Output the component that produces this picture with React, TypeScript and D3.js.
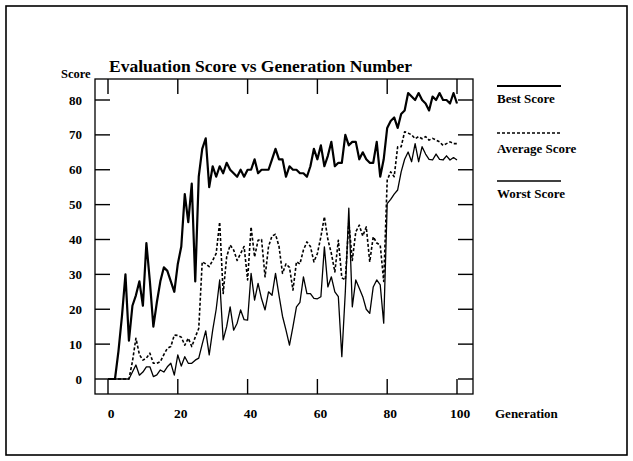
import React from "react";
import * as d3 from "d3";

const generations: number[] = d3.range(0, 101);

const bestScore: number[] = [
  0, 0, 0, 8, 18, 30, 11, 21, 24, 28,
  21, 39, 28, 15, 22, 28, 32, 31, 28, 25,
  33, 38, 53, 45, 56, 28, 58, 66, 69, 55,
  61, 58, 61, 59, 62, 60, 59, 58, 60, 58,
  60, 60, 63, 59, 60, 60, 60, 63, 66, 63,
  63, 58, 61, 60, 60, 59, 59, 58, 61, 66,
  63, 67, 61, 64, 68, 61, 62, 62, 70, 67,
  68, 68, 63, 65, 63, 62, 62, 68, 58, 63,
  72, 74, 75, 72, 76, 77, 82, 81, 80, 82,
  80, 79, 77, 81, 80, 82, 80, 80, 79, 82,
  79,
];

const averageScore: number[] = [
  0, 0, 0, 0, 0, 0, 0, 5, 11.7, 7,
  5.4, 6, 7.4, 4.5, 4.5, 5, 7, 8.8, 9.3, 12.6,
  12.5, 12, 9.7, 11.7, 9.3, 12, 14.5, 33.6, 33, 32.2,
  34, 36, 45, 24.5, 35, 38.4, 37, 34, 36, 38,
  28.4, 43.6, 35, 39.8, 40, 29.3, 38, 41, 41.5, 38,
  30.3, 33, 32, 25.5, 33.6, 33, 37, 39.3, 38, 33.6,
  36, 40.8, 46.5, 40, 36, 30.7, 39.8, 29, 28.4, 45,
  34, 42.2, 44.1, 41, 43.6, 33.6, 40.8, 39, 38.4, 28,
  57, 59.4, 58, 66.6, 66.6, 70.9, 70.5, 70, 68.9, 69.5,
  68.9, 69.5, 68.5, 69, 68.5, 68, 67, 67.5, 68, 67.5,
  67.5,
];

const worstScore: number[] = [
  0, 0, 0, 0, 0, 0, 0, 2, 4, 1.1,
  2, 3.5, 3.5, 0.7, 1.2, 2.6, 2, 3.5, 4.5, 1.1,
  6.9, 3.7, 6.4, 4.5, 4.5, 5.4, 6, 10, 13.8, 6.9,
  14, 20, 28.4, 11.2, 15, 20.7, 14, 16, 19.8, 17,
  16.9, 30.3, 22.6, 27.4, 23, 19.8, 25, 24, 30.3, 24,
  18, 14, 9.7, 15, 20.7, 22, 29.3, 24.5, 24.5, 23.1,
  23, 23.6, 37.9, 26.4, 29.3, 25, 23.6, 6.4, 25, 49,
  20.7, 28.4, 26, 23.6, 20, 18.8, 26.4, 28.4, 27, 16,
  50.3, 51.5, 53, 54.2, 59.4, 63, 65.1, 62.3, 67.5, 62.3,
  66.6, 64.5, 63, 62.8, 64.5, 63, 62.8, 64, 62.8, 63.5,
  62.8,
];

const xTicks: number[] = [0, 20, 40, 60, 80, 100];
const yTicks: number[] = [0, 10, 20, 30, 40, 50, 60, 70, 80];

const titleText = "Evaluation Score vs Generation Number";
const xAxisLabel = "Generation";
const yAxisLabel = "Score";
const legendLabels: string[] = ["Best Score", "Average Score", "Worst Score"];

export default function App() {
  const W = 633;
  const H = 461;
  const frame = { left: 95, right: 473, top: 79, bottom: 394 };
  const x = d3.scaleLinear().domain([0, 100]).range([108, 457]);
  const y = d3.scaleLinear().domain([0, 80]).range([379, 100]);
  const line = d3
    .line<number>()
    .x((_, i) => x(generations[i]))
    .y((d) => y(d));

  const font = "'Liberation Serif', 'Times New Roman', serif";
  const series = [
    { data: bestScore, width: 2.2, dash: undefined as string | undefined },
    { data: averageScore, width: 1.6, dash: "3,2" },
    { data: worstScore, width: 1.3, dash: undefined as string | undefined },
  ];
  const legendY = [86, 133, 181];
  const legendTextY = [103, 153, 198];

  return (
    <svg
      width={W}
      height={H}
      style={{ position: "absolute", left: 0, top: 0, background: "#fff" }}
      fontFamily={font}
    >
      <rect x={0} y={0} width={W} height={H} fill="#fff" />
      <rect x={6} y={6} width={621} height={449} fill="none" stroke="#000" strokeWidth={1.6} />
      <text x={109} y={72} fontSize={17.5} fontWeight="bold" fill="#000">
        {titleText}
      </text>
      <rect
        x={frame.left}
        y={frame.top}
        width={frame.right - frame.left}
        height={frame.bottom - frame.top}
        fill="none"
        stroke="#000"
        strokeWidth={1.3}
      />
      {yTicks.map((t) => (
        <g key={"y" + t}>
          <line x1={frame.left} x2={frame.left + 15} y1={y(t)} y2={y(t)} stroke="#000" strokeWidth={1.4} />
          <line x1={frame.right} x2={frame.right - 15} y1={y(t)} y2={y(t)} stroke="#000" strokeWidth={1.4} />
          <text x={82} y={y(t) + 4.5} fontSize={13} fontWeight="bold" textAnchor="end" fill="#000">
            {t}
          </text>
        </g>
      ))}
      {xTicks.map((t) => (
        <g key={"x" + t}>
          <line x1={x(t)} x2={x(t)} y1={frame.top} y2={frame.top + 15} stroke="#000" strokeWidth={1.4} />
          <line x1={x(t)} x2={x(t)} y1={frame.bottom} y2={frame.bottom - 15} stroke="#000" strokeWidth={1.4} />
          <text x={x(t) + 3} y={418} fontSize={13.5} fontWeight="bold" textAnchor="middle" fill="#000">
            {t}
          </text>
        </g>
      ))}
      <text x={61} y={78} fontSize={12.5} fontWeight="bold" fill="#000">
        {yAxisLabel}
      </text>
      <text x={495} y={418} fontSize={13} fontWeight="bold" fill="#000">
        {xAxisLabel}
      </text>
      {series.map((s, i) => (
        <path
          key={"s" + i}
          d={line(s.data) || ""}
          fill="none"
          stroke="#000"
          strokeWidth={s.width}
          strokeDasharray={s.dash}
          strokeLinejoin="round"
        />
      ))}
      {legendLabels.map((lab, i) => (
        <g key={"l" + i}>
          <line
            x1={497}
            x2={561}
            y1={legendY[i]}
            y2={legendY[i]}
            stroke="#000"
            strokeWidth={series[i].width}
            strokeDasharray={series[i].dash}
          />
          <text x={497} y={legendTextY[i]} fontSize={13} fontWeight="bold" fill="#000">
            {lab}
          </text>
        </g>
      ))}
    </svg>
  );
}
